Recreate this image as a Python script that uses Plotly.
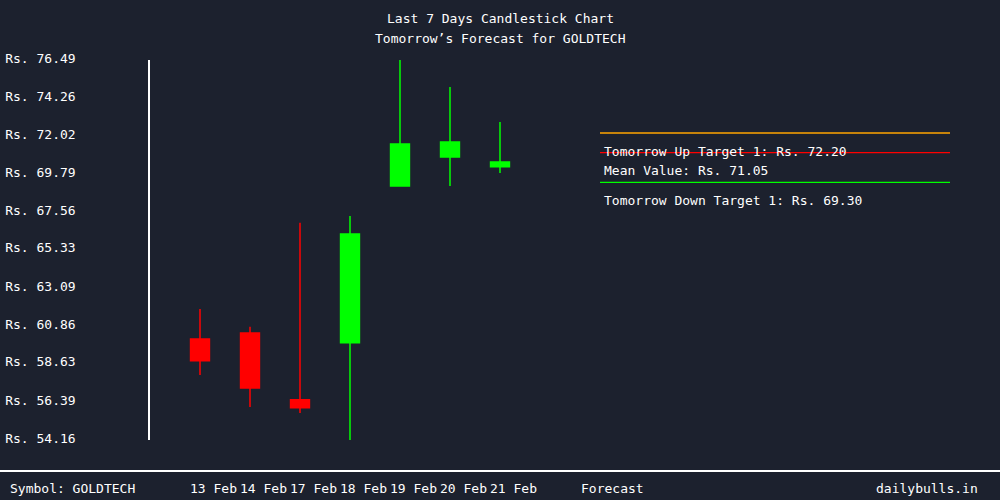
import plotly.graph_objects as go

# ---- data ----
dates = ["13 Feb", "14 Feb", "17 Feb", "18 Feb", "19 Feb", "20 Feb", "21 Feb"]
open_ = [60.10, 60.45, 56.52, 59.87, 69.09, 70.79, 70.21]
high = [61.86, 60.81, 66.92, 67.33, 76.49, 74.91, 72.85]
low = [57.98, 56.10, 55.75, 54.16, 69.09, 69.09, 69.85]
close = [58.81, 57.22, 56.05, 66.27, 71.56, 71.67, 70.50]

y_ticks = [54.16, 56.39, 58.63, 60.86, 63.09, 65.33, 67.56, 69.79, 72.02, 74.26, 76.49]
y_tick_text = ["Rs. %.2f" % v for v in y_ticks]

symbol = "GOLDTECH"
up_target = 72.20
mean_value = 71.05
down_target = 69.30

BG = "#1c212e"
FONT = "DejaVu Sans Mono"

x_idx = list(range(len(dates)))

fig = go.Figure()
fig.add_trace(go.Candlestick(
    x=x_idx, open=open_, high=high, low=low, close=close,
    increasing=dict(line=dict(color="#00ff00", width=1.5), fillcolor="#00ff00"),
    decreasing=dict(line=dict(color="#ff0000", width=1.5), fillcolor="#ff0000"),
    whiskerwidth=0, showlegend=False, hoverinfo="skip",
))

# forecast lines
fx0, fx1 = 0.5625, 1.0
for val, col in [(up_target, "#ffa500"), (mean_value, "#ff0000"), (down_target, "#00ff00")]:
    fig.add_shape(type="line", xref="paper", yref="y", x0=fx0, x1=fx1, y0=val, y1=val,
                  line=dict(color=col, width=1.3))

ann = []
for val, txt in [(up_target, "Tomorrow Up Target 1: Rs. %.2f" % up_target),
                 (mean_value, "Mean Value: Rs. %.2f" % mean_value),
                 (down_target, "Tomorrow Down Target 1: Rs. %.2f" % down_target)]:
    ann.append(dict(xref="paper", yref="y", x=0.565, y=val, yshift=-18, text=txt,
                    showarrow=False, xanchor="left", yanchor="middle",
                    font=dict(family=FONT, size=13, color="white")))

# titles
ann.append(dict(xref="paper", yref="paper", x=0.4375, y=(440 - 18) / 380, text="Last 7 Days Candlestick Chart",
                showarrow=False, xanchor="center", yanchor="middle", font=dict(family=FONT, size=13, color="white")))
ann.append(dict(xref="paper", yref="paper", x=0.4375, y=(440 - 38) / 380, text="Tomorrow’s Forecast for " + symbol,
                showarrow=False, xanchor="center", yanchor="middle", font=dict(family=FONT, size=13, color="white")))

# bottom bar
yb = (440 - 488) / 380
ann.append(dict(xref="paper", yref="paper", x=(8 - 150) / 800, y=yb, text="Symbol: " + symbol,
                showarrow=False, xanchor="left", yanchor="middle", font=dict(family=FONT, size=13, color="white")))
ann.append(dict(xref="paper", yref="paper", x=(612 - 150) / 800, y=yb, text="Forecast",
                showarrow=False, xanchor="center", yanchor="middle", font=dict(family=FONT, size=13, color="white")))
ann.append(dict(xref="paper", yref="paper", x=(980 - 150) / 800, y=yb, text="dailybulls.in",
                showarrow=False, xanchor="right", yanchor="middle", font=dict(family=FONT, size=13, color="white")))
for i, d in zip(x_idx, dates):
    ann.append(dict(xref="x", yref="paper", x=i, xshift=-12, y=yb, text=d,
                    showarrow=False, xanchor="left", yanchor="middle",
                    font=dict(family=FONT, size=13, color="white")))

fig.add_shape(type="line", xref="paper", yref="paper", x0=-150 / 800, x1=850 / 800,
              y0=(440 - 471) / 380, y1=(440 - 471) / 380, line=dict(color="white", width=2))

fig.update_layout(
    width=1000, height=500,
    paper_bgcolor=BG, plot_bgcolor=BG,
    margin=dict(l=150, r=50, t=60, b=60, autoexpand=False),
    boxgap=0.46,
    annotations=ann,
    font=dict(family=FONT, size=13, color="white"),
    xaxis=dict(range=[-1, 15], showgrid=False, zeroline=False, showticklabels=False,
               rangeslider=dict(visible=False), showline=False, ticks="", automargin=False),
    yaxis=dict(range=[54.16, 76.49], showgrid=False, zeroline=False, tickvals=y_ticks,
               ticktext=y_tick_text, showline=True, linecolor="white", linewidth=1.5,
               ticks="", ticklabelstandoff=70, ticklabelshift=-2, automargin=False,
               tickfont=dict(family=FONT, size=13, color="white")),
)

fig.write_html("out.html", post_script="document.body.style.margin='0';document.body.style.background='%s';" % BG)
